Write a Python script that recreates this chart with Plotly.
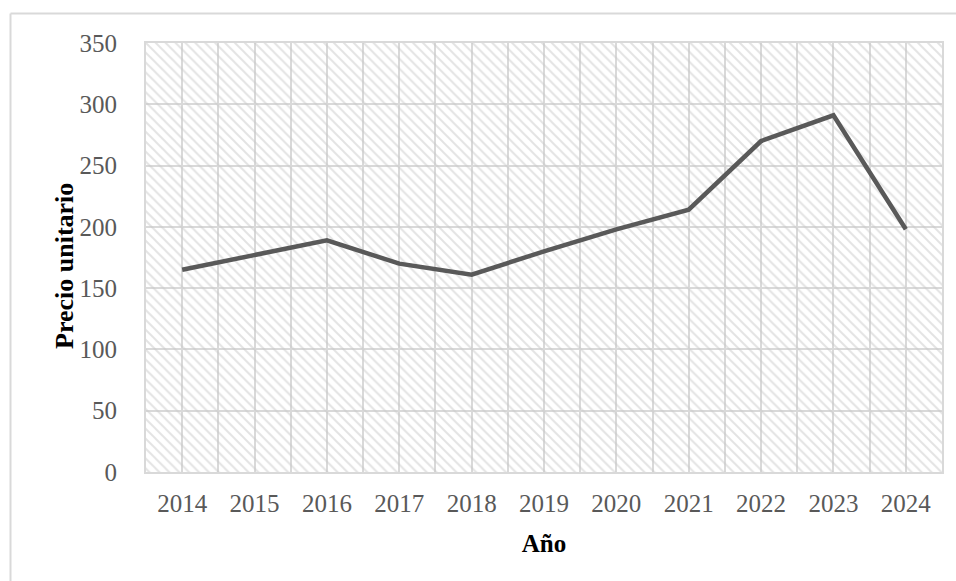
import plotly.graph_objects as go

# Precio unitario por año
years = [2014, 2015, 2016, 2017, 2018, 2019, 2020, 2021, 2022, 2023, 2024]
prices = [165, 177, 189, 170, 161, 180, 198, 214, 270, 291, 198]
y_ticks = [0, 50, 100, 150, 200, 250, 300, 350]

x_lo, x_hi = years[0] - 0.5, years[-1] + 0.5
y_lo, y_hi = y_ticks[0], y_ticks[-1]

# gridlines at every year and every half-year boundary; labels only on years
grid_vals = [x_lo + 0.5 * k for k in range(2 * len(years) + 1)]
grid_text = [str(int(v)) if float(v).is_integer() else "" for v in grid_vals]

font_family = "Liberation Serif, Times New Roman, serif"
grid_col = "#d9d9d9"

fig = go.Figure()

# hatched plot-area background
fig.add_trace(go.Scatter(
    x=[x_lo, x_hi, x_hi, x_lo, x_lo],
    y=[y_lo, y_lo, y_hi, y_hi, y_lo],
    mode="lines", line=dict(width=0),
    fill="toself", fillcolor="rgba(0,0,0,0)",
    fillpattern=dict(shape="\\", size=7, solidity=0.28,
                     fgcolor="#c8c8c8", bgcolor="rgba(0,0,0,0)"),
    hoverinfo="skip", showlegend=False,
))

fig.add_trace(go.Scatter(
    x=years, y=prices, mode="lines",
    line=dict(color="#595959", width=4.5),
    showlegend=False,
))

fig.update_layout(
    width=956, height=581,
    margin=dict(l=146, r=14, t=43, b=109),
    paper_bgcolor="white", plot_bgcolor="white",
    font=dict(family=font_family, size=25, color="#595959"),
    xaxis=dict(
        range=[x_lo, x_hi], tickmode="array",
        tickvals=grid_vals, ticktext=grid_text,
        showgrid=True, gridcolor=grid_col, gridwidth=1.5,
        zeroline=False, showline=True, linecolor=grid_col, linewidth=2,
        mirror=True, ticks="", ticklabelstandoff=8,
        title=dict(text="<b>Año</b>", font=dict(size=25, color="black"),
                   standoff=18),
    ),
    yaxis=dict(
        range=[y_lo, y_hi], tickmode="array", tickvals=y_ticks,
        showgrid=True, gridcolor=grid_col, gridwidth=1.5,
        zeroline=False, showline=True, linecolor=grid_col, linewidth=2,
        mirror=True, ticks="", ticklabelstandoff=22,
    ),
    annotations=[
        dict(text="<b>Precio unitario</b>", textangle=-90,
             xref="paper", yref="paper",
             x=(64 - 146) / 796, y=(472 - 266) / 429,
             xanchor="center", yanchor="middle", showarrow=False,
             font=dict(size=26, color="black", family=font_family)),
    ],
    shapes=[
        # outer chart frame (top and left edges)
        dict(type="line", xref="paper", yref="paper",
             x0=(10.5 - 146) / 796, x1=1.1, y0=(472 - 13.5) / 429,
             y1=(472 - 13.5) / 429, line=dict(color=grid_col, width=2)),
        dict(type="line", xref="paper", yref="paper",
             x0=(10.5 - 146) / 796, x1=(10.5 - 146) / 796,
             y0=-0.3, y1=(472 - 13.5) / 429,
             line=dict(color=grid_col, width=2)),
    ],
)

fig.write_html("out.html")
